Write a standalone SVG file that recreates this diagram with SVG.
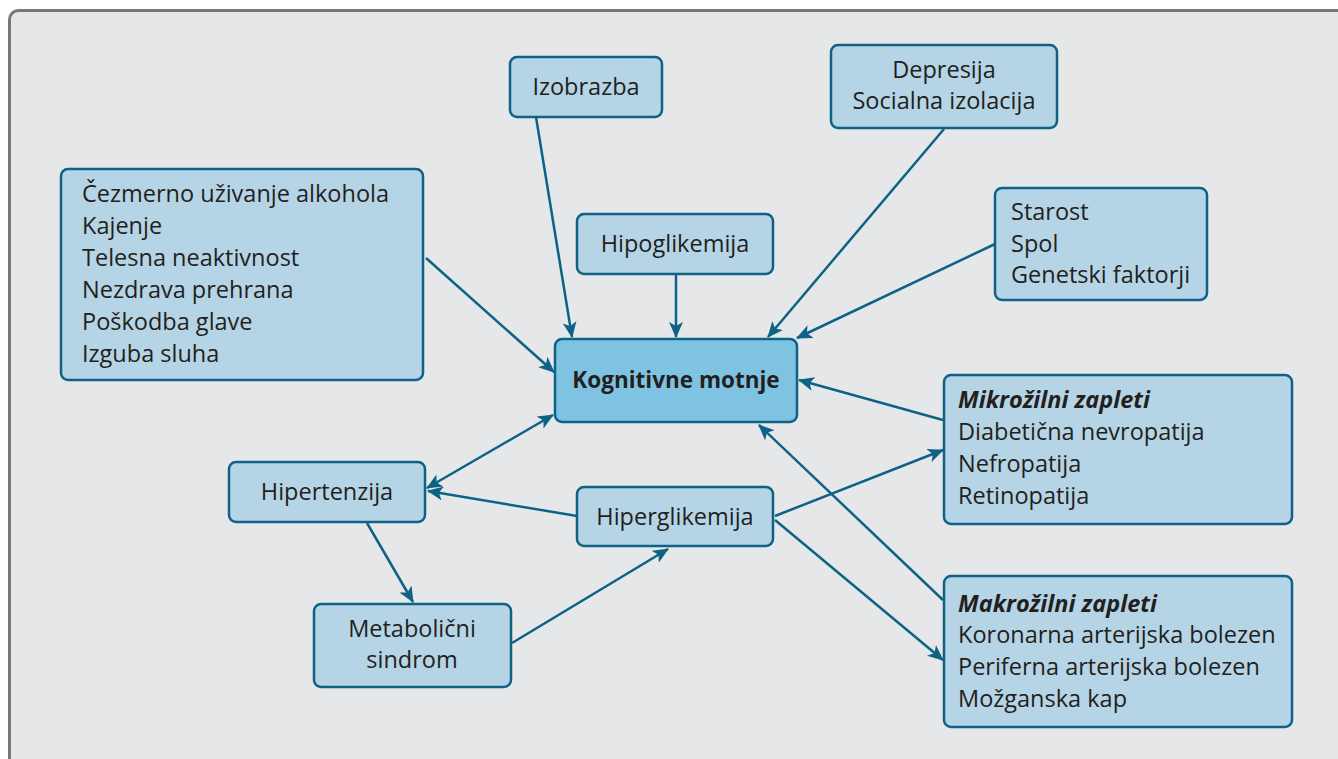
<svg xmlns="http://www.w3.org/2000/svg" width="1338" height="759" viewBox="0 0 1338 759">
<defs>
<style>
.bg{fill:#e6e7e9;stroke:#77787a;stroke-width:3}
.n{fill:#b5d4e5;stroke:#0e6286;stroke-width:2.5}
.c{fill:#7ec4e2;stroke:#0e6286;stroke-width:2.5}
text{font-family:"Open Sans","Noto Sans",sans-serif;font-size:23.5px;fill:#231f20}
.b{font-weight:bold;font-size:22.5px}
.i{font-weight:bold;font-style:italic}
.e{stroke:#0e6286;stroke-width:2.5;fill:none;marker-end:url(#a)}
</style>
<marker id="a" viewBox="0 0 16 14" refX="15" refY="7" markerWidth="16" markerHeight="14" markerUnits="userSpaceOnUse" orient="auto-start-reverse">
<path d="M0,0 L16,7 L0,14 L4,7 Z" fill="#0e6286"/>
</marker>
</defs>
<rect class="bg" x="9.5" y="10.5" width="1340" height="760" rx="9"/>
<g id="connectors">
<line class="e" x1="536" y1="117" x2="572" y2="337"/>
<line class="e" x1="676" y1="275" x2="676" y2="337"/>
<line class="e" x1="944" y1="129" x2="768" y2="337"/>
<line class="e" x1="995" y1="244" x2="797" y2="338"/>
<line class="e" x1="426" y1="258" x2="554" y2="372"/>
<line class="e" x1="943" y1="420" x2="799" y2="380"/>
<line class="e" x1="943" y1="600" x2="759" y2="425"/>
<line class="e" x1="427" y1="488" x2="553" y2="415" style="marker-start:url(#a)"/>
<line class="e" x1="577" y1="516" x2="428" y2="491"/>
<line class="e" x1="367" y1="523" x2="413" y2="602"/>
<line class="e" x1="512" y1="643" x2="668" y2="549"/>
<line class="e" x1="775" y1="516" x2="943" y2="450"/>
<line class="e" x1="775" y1="520" x2="943" y2="660"/>
</g>
<g id="izobrazba"><rect class="n" x="510" y="57" width="152" height="60" rx="7"/><text x="586" y="95" text-anchor="middle">Izobrazba</text></g>
<g id="depresija"><rect class="n" x="831" y="45" width="226" height="83" rx="7"/><text x="944" y="78" text-anchor="middle">Depresija</text><text x="944" y="109" text-anchor="middle">Socialna izolacija</text></g>
<g id="starost"><rect class="n" x="995" y="188" width="212" height="112" rx="7"/><text x="1011" y="220">Starost</text><text x="1011" y="252">Spol</text><text x="1011" y="283">Genetski faktorji</text></g>
<g id="zivljenjski"><rect class="n" x="61" y="169" width="362" height="211" rx="7"/>
<text x="82" y="202">Čezmerno uživanje alkohola</text><text x="82" y="234">Kajenje</text><text x="82" y="266">Telesna neaktivnost</text><text x="82" y="298">Nezdrava prehrana</text><text x="82" y="330">Poškodba glave</text><text x="82" y="362">Izguba sluha</text></g>
<g id="hipoglikemija"><rect class="n" x="577" y="214" width="196" height="60" rx="7"/><text x="675" y="252" text-anchor="middle">Hipoglikemija</text></g>
<g id="kognitivne"><rect class="c" x="555" y="339" width="242" height="83" rx="7"/><text class="b" x="676" y="388" text-anchor="middle">Kognitivne motnje</text></g>
<g id="mikro"><rect class="n" x="944" y="375" width="348" height="149" rx="7"/><text class="i" x="958" y="408">Mikrožilni zapleti</text><text x="958" y="440">Diabetična nevropatija</text><text x="958" y="472">Nefropatija</text><text x="958" y="504">Retinopatija</text></g>
<g id="makro"><rect class="n" x="944" y="576" width="348" height="151" rx="7"/><text class="i" x="958" y="612">Makrožilni zapleti</text><text x="958" y="643">Koronarna arterijska bolezen</text><text x="958" y="675">Periferna arterijska bolezen</text><text x="958" y="707">Možganska kap</text></g>
<g id="hipertenzija"><rect class="n" x="229" y="462" width="196" height="60" rx="7"/><text x="327" y="500" text-anchor="middle">Hipertenzija</text></g>
<g id="hiperglikemija"><rect class="n" x="577" y="487" width="196" height="59" rx="7"/><text x="675" y="525" text-anchor="middle">Hiperglikemija</text></g>
<g id="metabolicni"><rect class="n" x="314" y="604" width="197" height="83" rx="7"/><text x="412" y="637" text-anchor="middle">Metabolični</text><text x="412" y="668" text-anchor="middle">sindrom</text></g>
</svg>
